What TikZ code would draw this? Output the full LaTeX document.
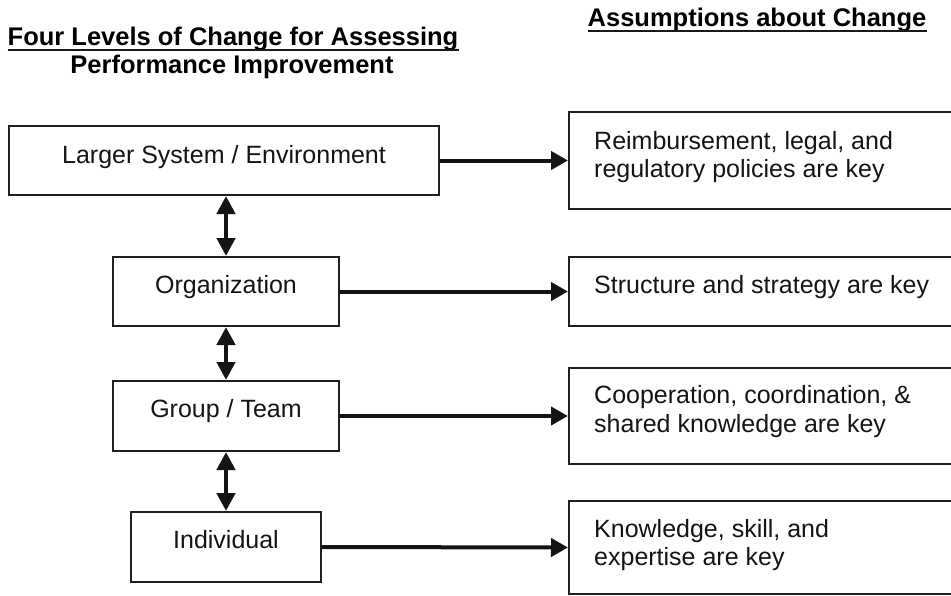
\documentclass[tikz,border=0pt]{standalone}
\usepackage{fontspec}
\setmainfont{Liberation Sans}
\usetikzlibrary{arrows.meta}
\begin{document}
\begin{tikzpicture}[x=1pt,y=-1pt,
  box/.style={draw=black!88, line width=2pt, inner sep=0pt, fill=white},
  txt/.style={inner sep=0pt, anchor=base, font=\fontsize{25}{29}\selectfont, text=black!92},
  rtxt/.style={txt, anchor=base west},
  head/.style={inner sep=0pt, anchor=base, font=\fontsize{25.5}{30}\selectfont\bfseries},
  uline/.style={line width=2pt, draw=black!90},
  flow/.style={line width=4pt, draw=black!92, -{Triangle[length=17pt,width=18pt]}},
  link/.style={line width=4.5pt, draw=black!92, {Triangle[length=18pt,width=18pt]}-{Triangle[length=18pt,width=18pt]}}
]
\useasboundingbox (0,0) rectangle (951,595);

% headings
\node[head] (h1) at (233,45) {Four Levels of Change for Assessing};
\node[head] (h1b) at (232,73) {Performance Improvement};
\node[head] (h2) at (757,26) {Assumptions about Change};
\draw[uline] ([yshift=-5pt]h1.base west) -- ([yshift=-5pt]h1.base east);
\draw[uline] ([yshift=-5pt]h2.base west) -- ([yshift=-5pt]h2.base east);

% levels of change
\node[box, minimum width=430pt, minimum height=69pt] (L1) at (224,160.5) {};
\node[box, minimum width=226pt, minimum height=69pt] (L2) at (226,291.5) {};
\node[box, minimum width=226pt, minimum height=70pt] (L3) at (226,416) {};
\node[box, minimum width=190pt, minimum height=70pt] (L4) at (226,547) {};
\node[txt] (t1) at (224,163) {Larger System / Environment};
\node[txt] (t2) at (226,293) {Organization};
\node[txt] (t3) at (226,417) {Group / Team};
\node[txt] (t4) at (226,548) {Individual};

% assumptions
\node[box, minimum width=390pt, minimum height=97pt] (R1) at (764,160.5) {};
\node[box, minimum width=390pt, minimum height=69pt] (R2) at (764,291.5) {};
\node[box, minimum width=390pt, minimum height=96pt] (R3) at (764,416) {};
\node[box, minimum width=390pt, minimum height=93pt] (R4) at (764,547.5) {};
\node[rtxt] (r1a) at (594,149) {Reimbursement, legal, and};
\node[rtxt] (r1b) at (594,177) {regulatory policies are key};
\node[rtxt] (r2) at (594,293) {Structure and strategy are key};
\node[rtxt] (r3a) at (594,403) {Cooperation, coordination, \&};
\node[rtxt] (r3b) at (594,432) {shared knowledge are key};
\node[rtxt] (r4a) at (594,537) {Knowledge, skill, and};
\node[rtxt] (r4b) at (594,565) {expertise are key};

% level to assumption
\draw[flow] (L1.east) -- (R1.west);
\draw[flow] (L2.east) -- (R2.west);
\draw[flow] (L3.east) -- (R3.west);
\draw[flow] (L4.east) -- (R4.west);

% links between levels
\draw[link] (L2.north) -- (L2.north |- L1.south);
\draw[link] (L3.north) -- (L2.south);
\draw[link] (L4.north) -- (L3.south);
\end{tikzpicture}
\end{document}
